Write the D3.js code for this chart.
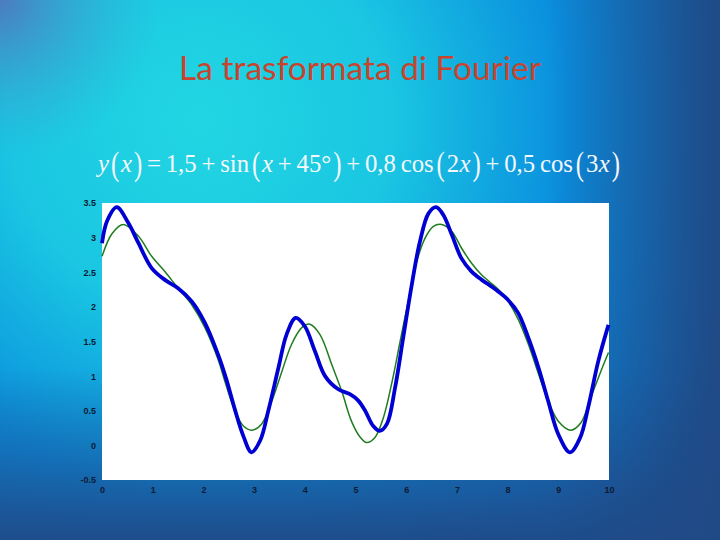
<!DOCTYPE html>
<html>
<head>
<meta charset="utf-8">
<script src="https://cdn.jsdelivr.net/npm/d3@7"></script>
<style>
html,body{margin:0;padding:0;overflow:hidden;background:#1a80d0;}
svg{display:block;}
</style>
</head>
<body>
<script>
// ---- data ----
const titleText = "La trasformata di Fourier";
const xTicks = [0,1,2,3,4,5,6,7,8,9,10];
const yTicks = [-0.5,0,0.5,1,1.5,2,2.5,3,3.5];
const yTickLabels = ["-0.5","0","0.5","1","1.5","2","2.5","3","3.5"];

const blueX = [0.00,0.10,0.29,0.52,0.72,0.98,1.24,1.50,1.77,2.03,2.29,2.45,2.62,2.79,2.95,3.12,3.28,3.48,3.64,3.82,4.00,4.20,4.40,4.66,4.89,5.05,5.19,5.35,5.48,5.62,5.78,5.94,6.11,6.27,6.44,6.59,6.73,6.90,7.09,7.29,7.49,7.65,7.82,8.01,8.21,8.41,8.61,8.80,9.00,9.23,9.43,9.59,9.79,9.99];
const blueY = [2.92,3.24,3.44,3.21,2.92,2.56,2.39,2.27,2.08,1.77,1.31,0.96,0.52,0.13,-0.10,0.07,0.50,1.12,1.60,1.84,1.72,1.36,1.00,0.81,0.74,0.65,0.50,0.28,0.21,0.31,0.83,1.55,2.32,2.94,3.35,3.44,3.33,3.04,2.70,2.51,2.39,2.31,2.22,2.10,1.91,1.55,1.12,0.64,0.16,-0.10,0.11,0.55,1.22,1.74];

const greenX = [0.00,0.20,0.42,0.72,0.98,1.24,1.50,1.77,2.03,2.29,2.43,2.62,2.79,2.96,3.15,3.35,3.54,3.74,3.94,4.10,4.30,4.53,4.73,4.92,5.09,5.22,5.38,5.55,5.71,5.88,6.04,6.21,6.37,6.53,6.70,6.90,7.09,7.29,7.49,7.65,7.82,8.01,8.21,8.41,8.61,8.80,9.00,9.25,9.45,9.64,9.84,9.99];
const greenY = [2.73,3.06,3.19,3.02,2.73,2.51,2.27,2.03,1.70,1.24,0.91,0.50,0.28,0.22,0.31,0.64,1.05,1.46,1.70,1.75,1.60,1.17,0.78,0.35,0.12,0.04,0.11,0.40,0.88,1.50,2.08,2.66,2.99,3.16,3.19,3.09,2.85,2.63,2.46,2.36,2.25,2.08,1.82,1.46,1.03,0.64,0.35,0.22,0.33,0.69,1.07,1.34];

// formula pieces: [text, style]  (i = italic, p = tall parenthesis, n = normal)
const formulaParts = [
  ["y","i"],["(","p"],["x","i"],[")","p"],["=","n"],["1,5","n"],["+","n"],["sin","n"],["(","p"],["x","i"],["+","n"],["45°","n"],[")","p"],
  ["+","n"],["0,8","n"],["cos","n"],["(","p"],["2","n"],["x","i"],[")","p"],["+","n"],["0,5","n"],["cos","n"],["(","p"],["3","n"],["x","i"],[")","p"]
];

// ---- drawing ----
const W = 720, H = 540;
const svg = d3.select("body").append("svg").attr("width", W).attr("height", H);
const defs = svg.append("defs");

const rg = defs.append("radialGradient").attr("id","bg").attr("gradientUnits","userSpaceOnUse")
  .attr("cx",200).attr("cy",120).attr("r",640);
[[0,"#22d6e2"],[0.3,"#1ac6e2"],[0.58,"#0a8ede"],[0.85,"#1170c0"],[1,"#1f4c8a"]]
  .forEach(s => rg.append("stop").attr("offset",s[0]).attr("stop-color",s[1]));
const lg = defs.append("linearGradient").attr("id","rightDark").attr("x1",0).attr("x2",1).attr("y1",0).attr("y2",0);
[[0,"#1f4a86",0],[0.76,"#1f4a86",0],[0.9,"#1f4a86",0.55],[1,"#1f4a86",1]]
  .forEach(s => lg.append("stop").attr("offset",s[0]).attr("stop-color",s[1]).attr("stop-opacity",s[2]));
const bg2 = defs.append("linearGradient").attr("id","bottomDark").attr("x1",0).attr("x2",0).attr("y1",0).attr("y2",1);
[[0,"#1f4a88",0],[0.68,"#1f4a88",0],[0.85,"#1f4a88",0.45],[1,"#1f4a88",0.95]]
  .forEach(s => bg2.append("stop").attr("offset",s[0]).attr("stop-color",s[1]).attr("stop-opacity",s[2]));
const cg = defs.append("radialGradient").attr("id","corner").attr("gradientUnits","userSpaceOnUse")
  .attr("cx",0).attr("cy",0).attr("r",160);
[[0,"#5a6cb8",0.8],[0.5,"#4a88c4",0.4],[1,"#3aa0d0",0]]
  .forEach(s => cg.append("stop").attr("offset",s[0]).attr("stop-color",s[1]).attr("stop-opacity",s[2]));

svg.append("rect").attr("width",W).attr("height",H).attr("fill","url(#bg)");
svg.append("rect").attr("width",W).attr("height",H).attr("fill","url(#corner)");
svg.append("rect").attr("width",W).attr("height",H).attr("fill","url(#bottomDark)");
svg.append("rect").attr("width",W).attr("height",H).attr("fill","url(#rightDark)");

// title
svg.append("text").attr("x",360).attr("y",80).attr("text-anchor","middle")
  .attr("font-family","Lato, 'Open Sans', sans-serif").attr("font-size",33.5)
  .attr("fill","#c8442c").text(titleText);

// formula, laid out piece by piece
const fg = svg.append("g");
const fs = 26;
let cx = 0;
formulaParts.forEach((p, i) => {
  let gap = 0;
  if (i > 0) {
    const prev = formulaParts[i-1];
    if (p[0] === "x" && (prev[0] === "2" || prev[0] === "3")) gap = 0.5;
    else if (p[0] === "(") gap = (prev[0] === "y") ? 2 : 3;
    else if (prev[0] === "(") gap = 2;
    else if (p[0] === ")") gap = 2;
    else gap = 5;
  }
  cx += gap;
  const t = fg.append("text").attr("font-family","'Liberation Serif','DejaVu Serif',serif")
    .attr("font-size", fs).attr("fill","#f4f8fc").text(p[0]);
  if (p[1] === "i") t.attr("font-style","italic");
  const w = t.node().getComputedTextLength();
  if (p[1] === "p") {
    t.attr("transform", `translate(${cx},172) scale(1,1.3) translate(0,2)`);
  } else {
    t.attr("transform", `translate(${cx},172)`);
  }
  cx += w;
});
{
  const s = (620 - 98) / cx;
  fg.attr("transform", `translate(98,0) scale(${s},1)`);
}

// plot
const x = d3.scaleLinear().domain([0,10]).range([102,609]);
const y = d3.scaleLinear().domain([-0.5,3.5]).range([480,203]);

svg.append("rect").attr("x",x(0)).attr("y",y(3.5)).attr("width",x(10)-x(0)).attr("height",y(-0.5)-y(3.5)).attr("fill","#ffffff");

const axX = svg.append("g").attr("transform",`translate(0,${y(-0.5)+3})`)
  .call(d3.axisBottom(x).tickValues(xTicks).tickSize(0).tickFormat(d3.format("d")));
const axY = svg.append("g").attr("transform",`translate(${x(0)-3},0)`)
  .call(d3.axisLeft(y).tickValues(yTicks).tickSize(0).tickFormat((d,i)=>yTickLabels[i]));
[axX,axY].forEach(a => {
  a.select(".domain").remove();
  a.selectAll("text").attr("font-family","'Liberation Sans',Arial,sans-serif").attr("font-size",9)
    .attr("font-weight","bold").attr("fill","#0d1a33");
});
axX.selectAll("text").attr("dy","0.8em");

const line = (xs, ys) => d3.line().x((d,i)=>x(xs[i])).y((d,i)=>y(ys[i])).curve(d3.curveCatmullRom.alpha(0.5))(ys);

svg.append("path").attr("d", line(greenX, greenY)).attr("fill","none").attr("stroke","#1f7d1f").attr("stroke-width",1.5);
svg.append("path").attr("d", line(blueX, blueY)).attr("fill","none").attr("stroke","#0000d2").attr("stroke-width",3.8).attr("stroke-linejoin","round");
</script>
</body>
</html>
